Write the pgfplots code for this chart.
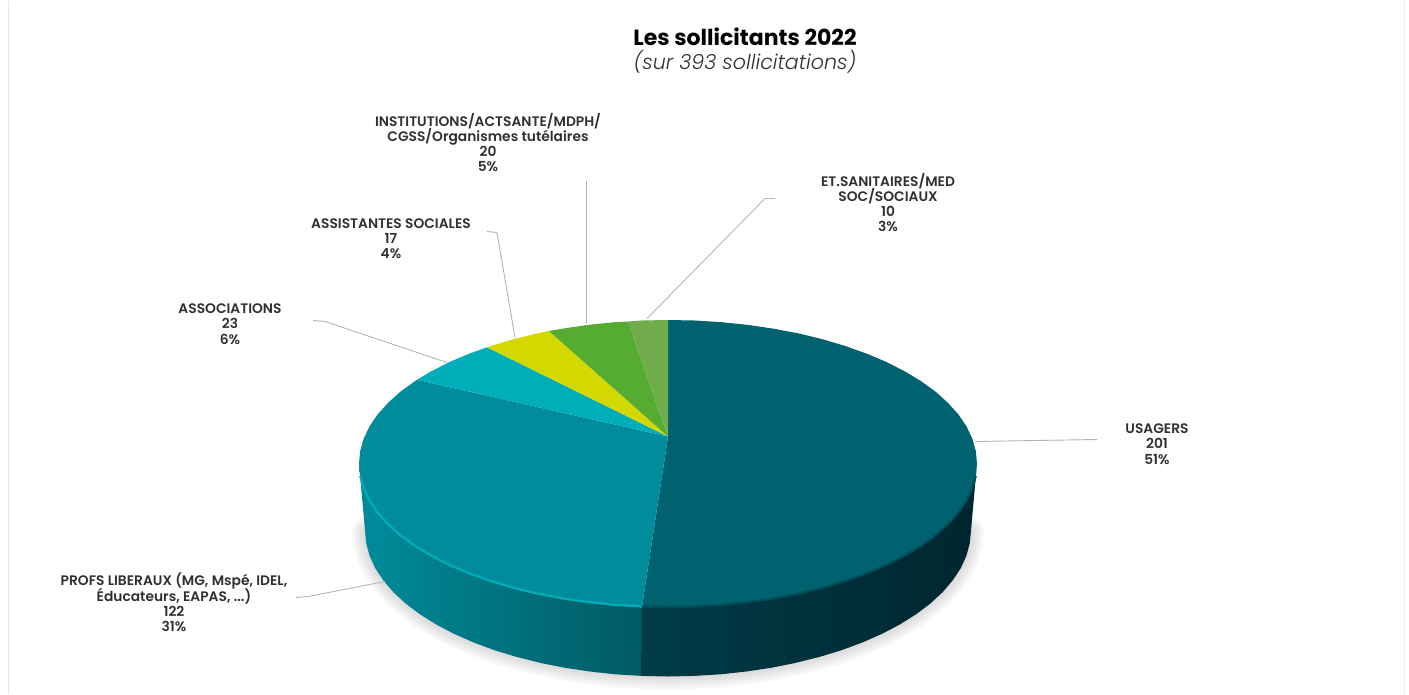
\documentclass[border=0pt]{standalone}
\usepackage{fontspec}
\usepackage{pgfplots}
\pgfplotsset{compat=1.18}
\setmainfont{Poppins}
\newfontfamily\lbl{Poppins SemiBold}
\newfontfamily\lgt{Poppins Light}[ItalicFont={Poppins Light Italic}]
\newcommand\labfont{\lbl\fontsize{13.8}{15.3}\selectfont\setlength{\lineskiplimit}{-20pt}}
\definecolor{cUsa}{HTML}{00626F}
\definecolor{cPro}{HTML}{008C9B}
\definecolor{cAsc}{HTML}{00AEBA}
\definecolor{cAss}{HTML}{D2D800}
\definecolor{cIns}{HTML}{55AC31}
\definecolor{cEts}{HTML}{70AC4C}
\definecolor{leader}{HTML}{B4B4B4}
\definecolor{txt}{HTML}{303030}
\begin{document}
\begin{tikzpicture}
\begin{axis}[hide axis, scale only axis, width=1409pt, height=693pt,
  xmin=0, xmax=1409, ymin=0, ymax=693, y dir=reverse, clip=false,
  every axis plot/.append style={line join=round}]
\path (axis cs:0,0) rectangle (axis cs:1409,693);
% frame
\addplot[draw=black!10, line width=1pt] coordinates {(8,0)(8,693)};
\addplot[draw=black!8, line width=1pt] coordinates {(1404,0)(1404,693)};
% shadow
\pgfplotsinvokeforeach{26,21,16,11,6}{
\addplot[draw=black, opacity=0.028, line width=#1pt, line cap=round] coordinates {
(365,530)(366.2,542.7)(369.6,555.4)(375.3,567.8)(383.3,579.9)(393.4,591.7)(405.6,603)(419.8,613.7)(435.9,623.8)(453.7,633.2)(473.2,641.8)(494.2,649.6)(516.5,656.4)(540,662.3)(564.4,667.2)(589.6,671)(615.4,673.8)(641.6,675.4)(668,676)(694.4,675.4)(720.6,673.8)(746.4,671)(771.6,667.2)(796,662.3)(819.5,656.4)(841.8,649.6)(862.8,641.8)(882.3,633.2)(900.1,623.8)(916.2,613.7)(930.4,603)(942.6,591.7)(952.7,579.9)(960.7,567.8)(966.4,555.4)(969.8,542.7)(971,530)};
}
% side: PROFS LIBERAUX
\addplot[draw=none, shading=axis, left color=cPro, right color={rgb,255:red,0;green,90;blue,99}, shading angle=90] coordinates {
(359,463)(360.2,475.5)(363.7,487.9)(369.5,500.1)(377.6,512.1)(388,523.6)(400.4,534.8)(414.9,545.3)(431.3,555.2)(449.5,564.5)(469.4,572.9)(490.8,580.5)(513.5,587.3)(537.4,593.1)(562.3,597.8)(588,601.6)(614.4,604.3)(642,606)
(641.6,675.4)(615.4,673.8)(589.6,671)(564.4,667.2)(540,662.3)(516.5,656.4)(494.2,649.6)(473.2,641.8)(453.7,633.2)(435.9,623.8)(419.8,613.7)(405.6,603)(393.4,591.7)(383.3,579.9)(375.3,567.8)(369.6,555.4)(366.2,542.7)(365,530)} -- cycle;
% side: USAGERS
\addplot[draw=none, shading=axis, left color={rgb,255:red,0;green,60;blue,73}, middle color={rgb,255:red,0;green,38;blue,46}, right color={rgb,255:red,0;green,38;blue,46}, shading angle=90] coordinates {
(642,606)(668,606.5)(694.9,606)(721.6,604.3)(748,601.6)(773.7,597.8)(798.6,593.1)(822.5,587.3)(845.2,580.5)(866.6,572.9)(886.5,564.5)(904.7,555.2)(921.1,545.3)(935.6,534.8)(948,523.6)(958.4,512.1)(966.5,500.1)(972.3,487.9)(975.8,475.5)(977,463)
(971,530)(969.8,542.7)(966.4,555.4)(960.7,567.8)(952.7,579.9)(942.6,591.7)(930.4,603)(916.2,613.7)(900.1,623.8)(882.3,633.2)(862.8,641.8)(841.8,649.6)(819.5,656.4)(796,662.3)(771.6,667.2)(746.4,671)(720.6,673.8)(694.4,675.4)(668,676)(641.6,675.4)} -- cycle;
% top: USAGERS 201
\addplot[fill=cUsa, draw=none] coordinates {
(668,436)(668,319.5)(694.9,320)(721.6,321.7)(748,324.4)(773.7,328.2)(798.6,332.9)(822.5,338.7)(845.2,345.5)(866.6,353.1)(886.5,361.5)(904.7,370.8)(921.1,380.7)(935.6,391.2)(948,402.4)(958.4,413.9)(966.5,425.9)(972.3,438.1)(975.8,450.5)(977,463)(975.8,475.5)(972.3,487.9)(966.5,500.1)(958.4,512.1)(948,523.6)(935.6,534.8)(921.1,545.3)(904.7,555.2)(886.5,564.5)(866.6,572.9)(845.2,580.5)(822.5,587.3)(798.6,593.1)(773.7,597.8)(748,601.6)(721.6,604.3)(694.9,606)(668,606.5)(642,606)} -- cycle;
% top: PROFS LIBERAUX 122
\addplot[fill=cPro, draw=none] coordinates {
(668,436)(417,379.3)(414.9,380.7)(400.4,391.2)(388,402.4)(377.6,413.9)(369.5,425.9)(363.7,438.1)(360.2,450.5)(359,463)(360.2,475.5)(363.7,487.9)(369.5,500.1)(377.6,512.1)(388,523.6)(400.4,534.8)(414.9,545.3)(431.3,555.2)(449.5,564.5)(469.4,572.9)(490.8,580.5)(513.5,587.3)(537.4,593.1)(562.3,597.8)(588,601.6)(614.4,604.3)(642,606)} -- cycle;
% top: ASSOCIATIONS 23
\addplot[fill=cAsc, draw=none] coordinates {(668,436)(487,346.8)(469.4,353.1)(449.5,361.5)(431.3,370.8)(417,379.3)} -- cycle;
% top: ASSISTANTES SOCIALES 17
\addplot[fill=cAss, draw=none] coordinates {(668,436)(549,330.5)(537.4,332.9)(513.5,338.7)(490.8,345.5)(487,346.8)} -- cycle;
% top: INSTITUTIONS 20
\addplot[fill=cIns, draw=none] coordinates {(668,436)(628,321)(614.4,321.7)(588,324.4)(562.3,328.2)(549,330.5)} -- cycle;
% top: ET.SANITAIRES 10
\addplot[fill=cEts, draw=none] coordinates {(668,436)(668,319.5)(641.1,320)(628,321)} -- cycle;
% rims
\addplot[draw=cAsc, line width=2.2pt] coordinates {
(360.2,475.5)(363.7,487.9)(369.5,500.1)(377.6,512.1)(388,523.6)(400.4,534.8)(414.9,545.3)(431.3,555.2)(449.5,564.5)(469.4,572.9)(490.8,580.5)(513.5,587.3)(537.4,593.1)(562.3,597.8)(588,601.6)(614.4,604.3)(642,606)};
\addplot[draw={rgb,255:red,0;green,78;blue,90}, line width=2.2pt] coordinates {
(642,606)(668,606.5)(694.9,606)(721.6,604.3)(748,601.6)(773.7,597.8)(798.6,593.1)(822.5,587.3)(845.2,580.5)(866.6,572.9)(886.5,564.5)(904.7,555.2)(921.1,545.3)(935.6,534.8)(948,523.6)(958.4,512.1)(966.5,500.1)(972.3,487.9)(975.8,475.5)};
% leader lines
\addplot[draw=leader, line width=0.9pt] coordinates {(975,441)(1097,439)};
\addplot[draw=leader, line width=0.9pt] coordinates {(385,581)(308,596)(296,597)};
\addplot[draw=leader, line width=0.9pt] coordinates {(447,362)(325,321)(313,320)};
\addplot[draw=leader, line width=0.9pt] coordinates {(515,337)(497,232)(487,231)};
\addplot[draw=leader, line width=0.9pt] coordinates {(586.5,322)(586.5,180)};
\addplot[draw=leader, line width=0.9pt] coordinates {(647,318)(765,198)(775,198)};
% text
\node[text=black] at (axis cs:745,36) {\fontsize{22}{26}\selectfont\bfseries Les sollicitants 2022};
\node[text=txt] at (axis cs:745,61) {\lgt\fontsize{20.6}{24}\selectfont\itshape (sur 393 sollicitations)};
\tikzset{lab/.style={text=txt, align=center, inner sep=0pt, font=\labfont}}
\node[lab] at (axis cs:488,142) {INSTITUTIONS/ACTSANTE/MDPH/\\CGSS/Organismes tutélaires\\20\\5\%};
\node[lab] at (axis cs:888,202) {ET.SANITAIRES/MED\\SOC/SOCIAUX\\10\\3\%};
\node[lab] at (axis cs:391,238) {ASSISTANTES SOCIALES\\17\\4\%};
\node[lab] at (axis cs:230,323.5) {ASSOCIATIONS\\23\\6\%};
\node[lab] at (axis cs:1157,443.5) {USAGERS\\201\\51\%};
\node[lab] at (axis cs:174,602) {PROFS LIBERAUX (MG, Mspé, IDEL,\\Éducateurs, EAPAS, ...)\\122\\31\%};
\end{axis}
\end{tikzpicture}
\end{document}
